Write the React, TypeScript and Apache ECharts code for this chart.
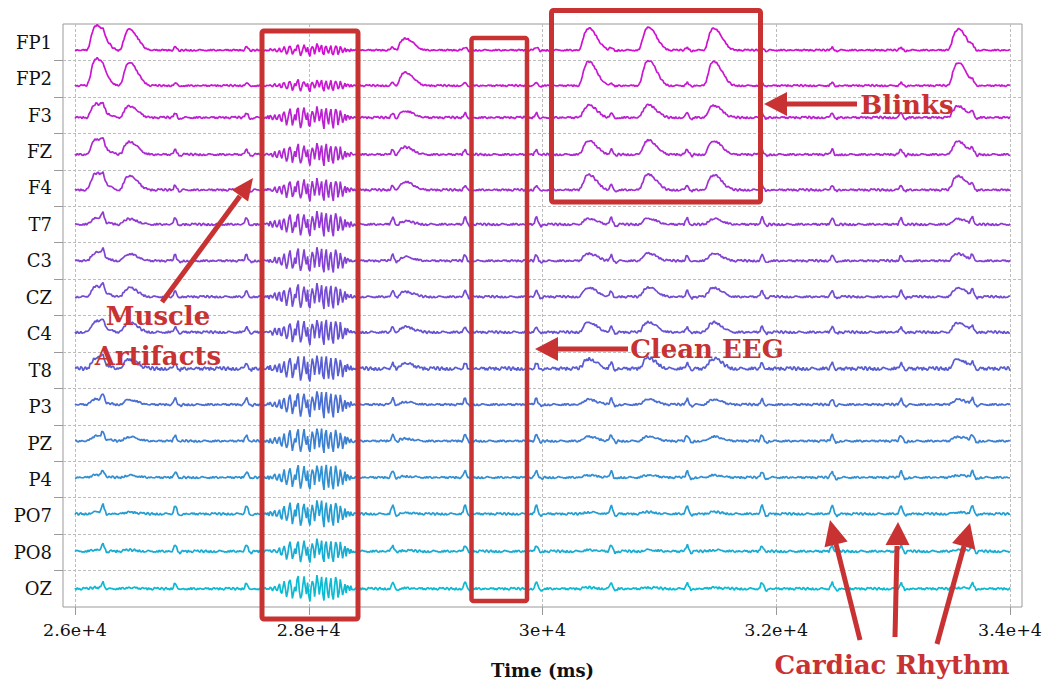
import React, { useEffect, useRef } from 'react';
import * as echarts from 'echarts';

// ---------- data ----------
const CHANNELS = ['FP1', 'FP2', 'F3', 'FZ', 'F4', 'T7', 'C3', 'CZ', 'C4', 'T8', 'P3', 'PZ', 'P4', 'PO7', 'PO8', 'OZ'];
const COLORS = ['#d010d0', '#c818d0', '#bb20d0', '#ae28d0', '#a030d0', '#9238d2', '#8242d2', '#744bd2', '#6652d2', '#585ed2', '#4a6ed2', '#3c80d2', '#3090d2', '#249ed2', '#18acd2', '#0cbad2'];

const X_TICKS = [26000, 28000, 30000, 32000, 34000];
const X_TICK_LABELS = ['2.6e+4', '2.8e+4', '3e+4', '3.2e+4', '3.4e+4'];

const T_START = 26000;
const T_END = 34000;
const STEP = 10; // ms per sample
const ROW = 36.5; // amplitude units per channel row

// cardiac (ECG) artefact peaks, ms
const CARDIAC_TIMES = [26240, 26856, 27473, 28098, 28724, 29340, 29948, 30591, 31242, 31876, 32484, 33066, 33683];
const CARDIAC_SHAPE = [0, 0.3, 0.8, 1, 0.55, 0.1, -0.2, -0.25, -0.12, 0];
const CARDIAC_GAIN = [3, 3, 5, 5, 5, 7, 6, 6, 5.5, 6, 6, 6, 6, 8.5, 6, 6];

// eye blinks: onset (ms) and frontal amplitude
const BLINK_ONSETS = [26100, 26382, 28738, 30305, 30819, 31376, 33474];
const BLINK_AMPS = [25, 21, 12, 22, 23, 22, 21];
const BLINK_SHAPE = [0, 0.06, 0.18, 0.36, 0.56, 0.74, 0.87, 0.95, 0.99, 1, 0.98, 0.94, 0.88, 0.81, 0.73, 0.64, 0.55, 0.46, 0.38, 0.3, 0.23, 0.17, 0.12, 0.08, 0.05, 0.03, 0.01, 0];
const BLINK_GAIN = [1, 1.1, 0.55, 0.62, 0.68, 0.26, 0.33, 0.42, 0.45, 0.45, 0.23, 0.2, 0.1, 0.08, 0.06, 0.05];

// muscle burst
const MUSCLE_START = 27640;
const MUSCLE_SHAPE = [
  0, 1, -1, 2, 0, -2, 1, 3, -1, -3,
  2, 4, -2, -5, 3, 7, -1, -8, -3, 6,
  10, 1, -9, -4, 3, -2, 8, 12, -3, -11,
  -6, 5, 11, 2, -4, 6, -8, -12, 1, 9,
  4, -7, 3, 13, 5, -10, -3, 8, -6, -11,
  7, 12, -2, -9, 4, 10, -5, -12, 2, 11,
  6, -8, -3, 9, 2, -7, -1, 5, -4, 3,
  1, -2, 2, 0, -1, 0,
];
const MUSCLE_GAIN = [0.45, 0.45, 0.85, 0.85, 0.85, 0.95, 0.95, 1, 1, 1, 1, 1, 1, 1, 0.9, 1];

// background activity
const NOISE = [
  0.4, -0.6, 0.9, -0.3, -1.1, 0.5, 1.2, -0.4, 0.2, -0.9,
  0.7, 1.0, -0.8, -0.2, 0.6, -1.2, 0.3, 0.8, -0.5, 1.1,
  -0.7, -0.1, 0.9, -1.0, 0.4, 0.2, -0.6, 1.3, -0.3, -0.8,
  0.5, 0.0, -1.1, 0.7, 0.6, -0.4, -0.9, 1.0, 0.1, -0.5,
  0.8, -1.3, 0.3, 0.6, -0.2, -0.7, 1.1, -0.6, 0.2, 0.9,
  -1.0, 0.4, -0.3, 0.7, -0.8, 1.2, -0.1, -0.5, 0.6, -0.9,
  0.3,
];
const NOISE_PHASE = [0, 11, 23, 5, 37, 17, 42, 29, 8, 53, 14, 33, 47, 20, 3, 58];
const NOISE_GAIN = [0.8, 0.8, 1, 1, 1, 1, 1, 1, 1.1, 1.6, 1, 1, 1, 1, 1.1, 1.1];
const BASE_OFFSET = [-8, -7, -2.5, -3, -2, 0, 0, 0.5, 1.5, 1.5, 2, 2, 2, 2, 1, 0];

// ---------- build ----------
function addShape(arr: number[], shape: number[], startIdx: number, gain: number) {
  for (let j = 0; j < shape.length; j++) {
    const k = startIdx + j;
    if (k >= 0 && k < arr.length) arr[k] += shape[j] * gain;
  }
}

function channelData(c: number) {
  const n = (T_END - T_START) / STEP + 1;
  const v: number[] = [];
  for (let k = 0; k < n; k++) v.push(NOISE[(k * 7 + NOISE_PHASE[c]) % NOISE.length] * NOISE_GAIN[c]);
  CARDIAC_TIMES.forEach((t) => addShape(v, CARDIAC_SHAPE, Math.round((t - T_START) / STEP) - 3, CARDIAC_GAIN[c]));
  BLINK_ONSETS.forEach((t, b) => addShape(v, BLINK_SHAPE, Math.round((t - T_START) / STEP), BLINK_AMPS[b] * BLINK_GAIN[c]));
  addShape(v, MUSCLE_SHAPE, Math.round((MUSCLE_START - T_START) / STEP), MUSCLE_GAIN[c]);
  const center = (15.5 - c) * ROW + BASE_OFFSET[c];
  return v.map((y, k) => [T_START + k * STEP, center + y]);
}

const RED = '#c83232';
const FONT = 'DejaVu Serif';

function arrow(line: number[], head: number[][]) {
  return [
    { type: 'line', z: 100, shape: { x1: line[0], y1: line[1], x2: line[2], y2: line[3] }, style: { stroke: RED, lineWidth: 5 } },
    { type: 'polygon', z: 100, shape: { points: head }, style: { fill: RED } },
  ];
}

function label(text: string, x: number, y: number) {
  return {
    type: 'text', z: 100, x, y,
    style: { text, fill: RED, fontFamily: FONT, fontWeight: 'bold', fontSize: 26, align: 'center', verticalAlign: 'middle', textAlign: 'center', textVerticalAlign: 'middle' },
  };
}

function box(x: number, y: number, w: number, h: number, lw: number) {
  return { type: 'rect', z: 100, shape: { x, y, width: w, height: h, r: 2 }, style: { fill: 'none', stroke: RED, lineWidth: lw } };
}

const option = {
  animation: false,
  backgroundColor: '#ffffff',
  grid: [
    { left: 63, right: 23, top: 24, bottom: 79, show: true, borderColor: '#9a9a9a', borderWidth: 1, backgroundColor: 'transparent' },
    { left: 75, right: 35, top: 24, bottom: 79 },
  ],
  xAxis: [
    { gridIndex: 0, type: 'value', min: 0, max: 1, show: false },
    {
      gridIndex: 1, type: 'value', min: 26000, max: 34000, interval: 2000,
      axisLine: { show: false },
      axisTick: { show: true, length: 8, lineStyle: { color: '#999' } },
      axisLabel: {
        formatter: (v: number) => { const i = X_TICKS.indexOf(v); return i >= 0 ? X_TICK_LABELS[i] : ''; },
        fontFamily: FONT, fontSize: 17.5, color: '#111', margin: 14,
      },
      splitLine: { show: true, lineStyle: { type: [3, 2], color: '#bdbdbd', width: 1 } },
      name: 'Time (ms)', nameLocation: 'middle', nameGap: 54,
      nameTextStyle: { fontFamily: FONT, fontWeight: 'bold', fontSize: 18, color: '#111' },
    },
  ],
  yAxis: [
    {
      gridIndex: 0, type: 'value', min: 0, max: 16, interval: 1, inverse: true,
      axisLine: { show: false },
      axisTick: { show: true, length: 9, customValues: [1, 2, 3, 4, 5, 6, 7, 8, 9, 10, 11, 12, 13, 14, 15], lineStyle: { color: '#999' } },
      axisLabel: {
        customValues: CHANNELS.map((_, i) => i + 0.5),
        formatter: (v: number) => CHANNELS[Math.floor(v)] ?? '',
        fontFamily: FONT, fontSize: 18, color: '#111', margin: 11,
      },
      splitLine: { show: true, lineStyle: { type: [3, 2], color: '#bdbdbd', width: 1 } },
    },
    { gridIndex: 1, type: 'value', min: 0, max: 16 * ROW, show: false },
  ],
  series: CHANNELS.map((name, c) => ({
    name, type: 'line', xAxisIndex: 1, yAxisIndex: 1, showSymbol: false, symbol: 'none', silent: true,
    lineStyle: { color: COLORS[c], width: 1.7 }, data: channelData(c), clip: false,
  })),
  graphic: [
    box(262, 31, 96, 588, 5),
    box(471.5, 38, 55.5, 563, 4.5),
    box(551.5, 10.5, 209, 191.5, 5),
    ...arrow([162, 302, 240, 196], [[253, 178], [248.1, 201.6], [231.9, 189.8]]),
    ...arrow([857, 104, 784, 104], [[764, 104], [787, 92], [787, 116]]),
    ...arrow([628, 349, 556, 349], [[535, 349], [558, 337], [558, 361]]),
    ...arrow([860, 640, 836, 544], [[830, 520], [847.7, 541.4], [824.5, 547.2]]),
    ...arrow([895, 637, 897, 546], [[898, 522], [909.5, 545], [885.5, 545]]),
    ...arrow([937, 644, 964, 546], [[970, 523], [975.3, 549.4], [952.1, 543.0]]),
    label('Muscle', 158, 316),
    label('Artifacts', 158, 356),
    label('Blinks', 907, 105),
    label('Clean EEG', 707, 349),
    label('Cardiac Rhythm', 892, 665),
  ],
};

export default function App() {
  const ref = useRef<HTMLDivElement>(null);
  useEffect(() => {
    const chart = echarts.init(ref.current as HTMLDivElement, null, { renderer: 'svg' });
    chart.setOption(option as any);
    return () => chart.dispose();
  }, []);
  return <div ref={ref} style={{ position: 'fixed', left: 0, top: 0, width: 1045, height: 686, background: '#fff' }} />;
}
